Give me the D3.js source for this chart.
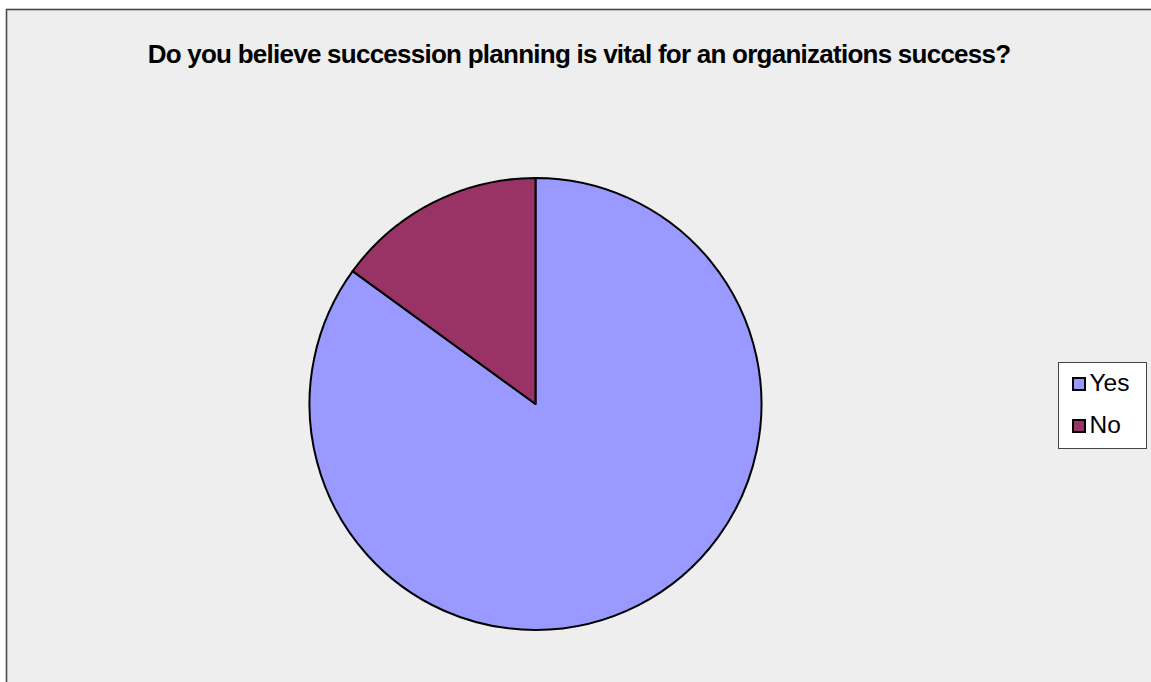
<!DOCTYPE html>
<html>
<head>
<meta charset="utf-8">
<script src="https://cdn.jsdelivr.net/npm/d3@7"></script>
<style>
  html, body { margin: 0; padding: 0; background: #ffffff; }
  svg { display: block; }
</style>
</head>
<body>
<svg id="chart" width="1151" height="682"></svg>
<script>
// Survey responses (percent of respondents)
const categories = ["Yes", "No"];
const values = [85, 15];
const colors = ["#9999FF", "#993366"];
const titleText = "Do you believe succession planning is vital for an organizations success?";

const svg = d3.select("#chart");
const W = 1151, H = 682;

// Chart area frame (runs off the right and bottom edges)
svg.append("rect")
  .attr("x", 6.5).attr("y", 9.5)
  .attr("width", W + 20).attr("height", H + 20)
  .attr("fill", "#EEEEEE")
  .attr("stroke", "#4a4a4a")
  .attr("stroke-width", 1.6);

// Title
svg.append("text")
  .attr("x", 579).attr("y", 63)
  .attr("text-anchor", "middle")
  .attr("font-family", "'Liberation Sans', Arial, sans-serif")
  .attr("font-weight", "bold")
  .attr("font-size", 26)
  .attr("letter-spacing", -0.75)
  .attr("fill", "#000")
  .text(titleText);

// Pie
const cx = 535.5, cy = 404, r = 226;
const color = d3.scaleOrdinal().domain(categories).range(colors);
const pie = d3.pie().sort(null).value((d, i) => values[i]);
const arc = d3.arc().innerRadius(0).outerRadius(r);

const g = svg.append("g").attr("transform", `translate(${cx},${cy})`);
g.selectAll("path")
  .data(pie(categories))
  .join("path")
  .attr("d", arc)
  .attr("fill", d => color(d.data))
  .attr("stroke", "#000")
  .attr("stroke-width", 2)
  .attr("stroke-linejoin", "round");

// Legend
const legend = svg.append("g");
legend.append("rect")
  .attr("x", 1058.5).attr("y", 362.5)
  .attr("width", 88).attr("height", 86)
  .attr("fill", "#ffffff")
  .attr("stroke", "#444")
  .attr("stroke-width", 1);

const legendY = d3.scalePoint().domain(categories).range([391, 433]);
const items = legend.selectAll("g.item")
  .data(categories)
  .join("g")
  .attr("class", "item")
  .attr("transform", d => `translate(0,${legendY(d)})`);

items.append("rect")
  .attr("x", 1073).attr("y", -13)
  .attr("width", 12).attr("height", 12)
  .attr("fill", d => color(d))
  .attr("stroke", "#000")
  .attr("stroke-width", 2);

items.append("text")
  .attr("x", 1089.5).attr("y", 0)
  .attr("font-family", "'Liberation Sans', Arial, sans-serif")
  .attr("font-size", 24.5)
  .attr("fill", "#000")
  .text(d => d);
</script>
</body>
</html>
